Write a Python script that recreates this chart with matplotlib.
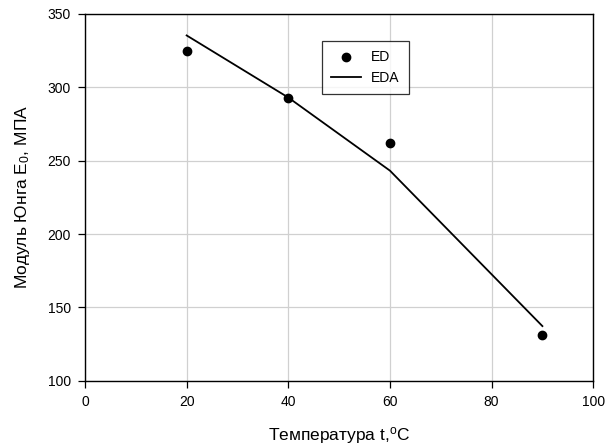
import numpy as np
import matplotlib
matplotlib.use('Agg')
import matplotlib.pyplot as plt

plt.rcParams['font.family'] = ['Liberation Sans', 'DejaVu Sans']
plt.rcParams['mathtext.fontset'] = 'custom'
plt.rcParams['mathtext.rm'] = 'Liberation Sans'
plt.rcParams['mathtext.it'] = 'Liberation Sans'

# experimental points (ED) and approximation (EDA)
t_ed = [20, 40, 60, 90]
e_ed = [324.7, 292.8, 262.2, 131.0]
t_eda = [20, 40, 60, 90]
e_eda = [335.3, 293.0, 243.2, 137.3]

x_ticks = [0, 20, 40, 60, 80, 100]
y_ticks = [100, 150, 200, 250, 300, 350]

fig = plt.figure(figsize=(6.16, 4.47), dpi=100)
ax = fig.add_axes([0.138, 0.148, 0.825, 0.821])

ax.plot(t_ed, e_ed, 'o', color='black', markersize=6, label='ED', zorder=3)
ax.plot(t_eda, e_eda, '-', color='black', linewidth=1.3, label='EDA', zorder=2)

ax.set_xlim(0, 100)
ax.set_ylim(100, 350)
ax.set_xticks(x_ticks)
ax.set_yticks(y_ticks)
ax.grid(True, color='#d0d0d0', linewidth=0.9)
ax.set_axisbelow(True)
ax.tick_params(direction='out', length=5, width=0.9, labelsize=10, pad=5)
for s in ax.spines.values():
    s.set_linewidth(1.0)

ax.set_xlabel('Температура t,$^{\\mathrm{o}}$C', fontsize=12.5, labelpad=12)
ax.set_ylabel('Модуль Юнга E$_{\\mathrm{0}}$, МПА', fontsize=12.5, labelpad=11)

leg = ax.legend(loc='upper left', bbox_to_anchor=(0.466, 0.925), borderaxespad=0,
                fontsize=10, frameon=True, fancybox=False, edgecolor='black',
                handlelength=2.2, handletextpad=0.7, borderpad=0.65,
                labelspacing=0.5)
leg.get_frame().set_linewidth(0.9)

fig.savefig('out.png', dpi=100)
